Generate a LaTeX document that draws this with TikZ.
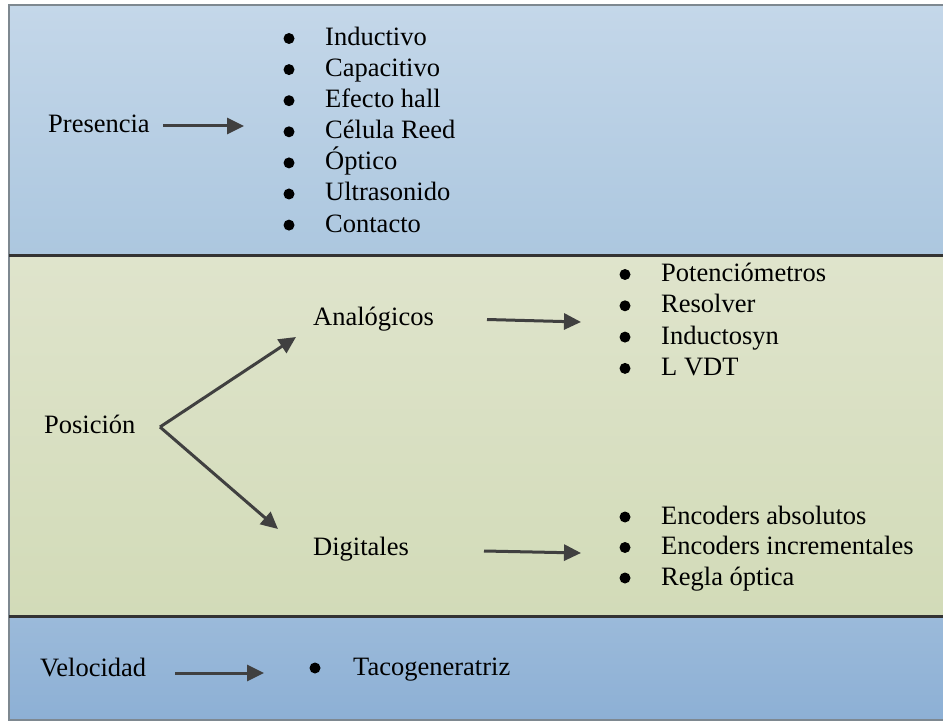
\documentclass[tikz,border=0pt]{standalone}
\usepackage{fontspec}
\setmainfont{Liberation Serif}
\usetikzlibrary{arrows.meta}
\definecolor{topA}{HTML}{C4D7E9}
\definecolor{topB}{HTML}{ACC7DF}
\definecolor{midA}{HTML}{DFE4CC}
\definecolor{midB}{HTML}{D2DBB8}
\definecolor{botA}{HTML}{9BBADA}
\definecolor{botB}{HTML}{8DB0D5}
\definecolor{framec}{HTML}{7E8890}
\definecolor{sepc}{HTML}{333333}
\definecolor{arrc}{HTML}{404040}
\tikzset{
  lbl/.style={anchor=base west, inner sep=0pt, font=\fontsize{26.5}{31}\selectfont},
  bul/.style={circle, fill=black, inner sep=0pt, minimum size=11pt},
  arr/.style={draw=arrc, line width=3pt, -{Triangle[length=17pt,width=16pt]}},
}
\begin{document}
\begin{tikzpicture}[x=1pt,y=-1pt]
\useasboundingbox (0,0) rectangle (943,722);
\fill[white] (0,0) rectangle (943,722);
% bands
\shade[top color=topA, bottom color=topB] (9,5) rectangle (960,255);
\shade[top color=midA, bottom color=midB] (9,256) rectangle (960,616);
\shade[top color=botA, bottom color=botB] (9,617) rectangle (960,720);
\draw[framec, line width=1.5pt] (960,5) -- (9,5) -- (9,720) -- (960,720);
\draw[sepc, line width=3.5pt] (9,255.5) -- (960,255.5);
\draw[sepc, line width=3.5pt] (9,616.5) -- (960,616.5);

% Presencia
\node[lbl] (pres) at (48,133) {Presencia};
\coordinate (presS) at (163,126);
\coordinate (presE) at (244,126);
\draw[arr] (presS) -- (presE);
\foreach \t [count=\i from 0] in {Inductivo,Capacitivo,Efecto hall,Célula Reed,Óptico,Ultrasonido,Contacto}{
  \node[bul] (pb\i) at (289,{38.5+31.1*\i}) {};
  \node[lbl] (pt\i) at (325,{45.5+31.1*\i}) {\t};
}

% Posicion
\node[lbl] (pos) at (44,433) {Posición};
\coordinate (fork) at (160,427);
\coordinate (forkA) at (296,337);
\coordinate (forkD) at (278,529);
\draw[arr] (fork) -- (forkA);
\draw[arr] (fork) -- (forkD);
\node[lbl] (ana) at (313,326) {Analógicos};
\node[lbl] (dig) at (313,555) {Digitales};
\coordinate (anaS) at (487,319.5);
\coordinate (anaE) at (581,322);
\draw[arr] (anaS) -- (anaE);
\coordinate (digS) at (484,551);
\coordinate (digE) at (581,553);
\draw[arr] (digS) -- (digE);
\foreach \t [count=\i from 0] in {Potenciómetros,Resolver,Inductosyn,L VDT}{
  \node[bul] (ab\i) at (625,{274.5+31.3*\i}) {};
  \node[lbl] (at\i) at (661,{281.5+31.3*\i}) {\t};
}
\foreach \t [count=\i from 0] in {Encoders absolutos,Encoders incrementales,Regla óptica}{
  \node[bul] (db\i) at (625,{517+30.5*\i}) {};
  \node[lbl] (dt\i) at (661,{524+30.5*\i}) {\t};
}

% Velocidad
\node[lbl] (vel) at (40,676) {Velocidad};
\coordinate (velS) at (175,673);
\coordinate (velE) at (264,673);
\draw[arr] (velS) -- (velE);
\node[bul] (vb) at (315,668) {};
\node[lbl] (vt) at (353,675) {Tacogeneratriz};
\end{tikzpicture}
\end{document}
